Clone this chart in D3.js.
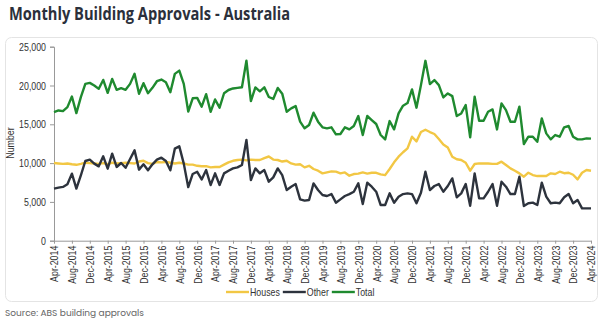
<!DOCTYPE html>
<html><head><meta charset="utf-8">
<script src="https://cdn.jsdelivr.net/npm/d3@7/dist/d3.min.js"></script>
<style>
body{margin:0;background:#fff;}
svg{display:block;}
</style></head>
<body>
<svg id="c" width="604" height="324"></svg>
<script>
const title = "Monthly Building Approvals - Australia";
const source = "Source: ABS building approvals";
const tickLabels = ["Apr-2014","Aug-2014","Dec-2014","Apr-2015","Aug-2015","Dec-2015","Apr-2016","Aug-2016","Dec-2016","Apr-2017","Aug-2017","Dec-2017","Apr-2018","Aug-2018","Dec-2018","Apr-2019","Aug-2019","Dec-2019","Apr-2020","Aug-2020","Dec-2020","Apr-2021","Aug-2021","Dec-2021","Apr-2022","Aug-2022","Dec-2022","Apr-2023","Aug-2023","Dec-2023","Apr-2024"];
const yTicks = [0,5000,10000,15000,20000,25000];
const seriesNames = ["Houses","Other","Total"];
const seriesColors = ["#f2c744","#2d333d","#1f8a2f"];

const houses = [10010,9950,9900,9950,9850,9780,9900,10050,10000,9950,9900,10000,9850,10050,9950,10000,10050,10000,9950,10200,10300,10000,9900,10150,10100,10150,10050,9950,10050,9950,9800,9800,9650,9600,9600,9450,9500,9500,9800,10100,10300,10400,10450,10350,10450,10400,10400,10650,10850,10450,10400,10200,10300,9960,9800,9850,9450,9650,9240,9020,8680,8800,8930,8900,8680,8800,8380,8590,8650,8800,8650,8750,8750,8550,8450,9240,10100,10830,11400,11900,13400,12800,14000,14300,14000,13750,13100,12400,12000,10830,10490,10400,10050,9020,9880,9960,9950,9950,9900,9900,10180,9750,9320,9020,8680,8250,8760,8460,8330,8330,8330,8680,8600,8890,8700,8760,8500,7900,8760,9110,9020];
const other = [6710,6840,6930,7270,8640,6710,8430,10270,10440,9930,9580,10870,9280,11210,9500,10010,9400,10530,11640,9160,9840,9070,9840,10440,10700,10270,9070,11860,12160,9930,6900,8600,8880,7900,9100,7180,8680,7180,8680,9020,9320,9450,9760,12980,7820,9320,8680,9100,7600,8160,9320,8460,6530,6960,7300,5330,5160,5250,7390,6530,5890,5760,6010,4900,5330,5760,6010,6310,7390,4730,7470,6960,6310,4600,4600,6100,4900,5670,6010,6100,6010,4820,6180,8890,6530,7050,7300,6310,7050,8030,5590,6100,7300,4510,8680,5460,5460,6310,7300,4510,7600,6960,6010,6010,8250,4470,4820,4900,4600,7470,5670,4820,4900,4820,5590,6010,4820,5250,4170,4170,4170];
const total = [16570,16780,16700,17210,18580,16440,18500,20210,20340,20000,19570,20720,19050,20850,19440,19650,19450,20210,21500,18930,20300,19010,19700,20550,20770,20420,19140,21500,21920,20210,16650,18350,18410,17270,18880,16620,18200,17140,19000,19420,19620,19700,19770,23200,18000,19760,19250,19760,18520,18270,19680,18950,16620,17050,17350,15340,14480,14910,16490,15340,14610,14480,14610,13710,13750,14610,14350,14780,16070,13620,16070,15550,15040,13620,13060,15420,14350,16400,17400,17740,19500,17140,20050,23180,20180,20700,20050,18460,18980,18630,16060,16400,17480,13310,18550,15460,15460,16620,16920,14340,17700,16830,15330,15330,17270,12460,13400,13400,12750,15760,13830,13060,13620,13400,14610,14780,13400,13060,13060,13190,13150];

const svg = d3.select("#c");
const font = "'Liberation Sans',Arial,sans-serif";
const NX = 0.8; // horizontal condensing of the narrow axis font

// title
svg.append("text").attr("x",9).attr("y",20).text(title)
  .attr("font-family","'Open Sans',Poppins,sans-serif").attr("font-weight","700")
  .attr("font-size",17).attr("fill","#2b303b")
  .attr("textLength",281).attr("lengthAdjust","spacingAndGlyphs");

// card
svg.append("rect").attr("x",5.5).attr("y",37.5).attr("width",592).attr("height",264).attr("rx",6)
  .attr("fill","#fff").attr("stroke","#e4e4e4");

// source
svg.append("text").attr("x",5).attr("y",316).text(source)
  .attr("font-family","Poppins,'Open Sans',sans-serif").attr("font-size",9).attr("fill","#666");

const n = total.length;
const x = d3.scaleLinear().domain([0, n-1]).range([54, 591]);
const y = d3.scaleLinear().domain([0, 25000]).range([240.7, 46.7]);

// y axis
const ya = svg.append("g").attr("transform","translate(54,0)")
  .call(d3.axisLeft(y).tickValues(yTicks).tickFormat(d3.format(",")).tickSize(4).tickPadding(4));
ya.select(".domain").attr("stroke","#999");
ya.selectAll(".tick line").attr("stroke","#999");
ya.selectAll("text").attr("font-family",font).attr("font-size",11).attr("fill","#333")
  .attr("x",-8/NX).attr("transform",`scale(${NX},1)`);

// x axis
const xa = svg.append("g").attr("transform","translate(0,240.7)")
  .call(d3.axisBottom(x).tickValues(d3.range(0, n, 4)).tickFormat((d,i)=>tickLabels[i]).tickSize(3).tickSizeOuter(0));
xa.select(".domain").attr("stroke","#999");
xa.selectAll(".tick line").attr("stroke","#999");
xa.selectAll("text").attr("font-family",font).attr("font-size",11).attr("fill","#333")
  .attr("text-anchor","end").attr("transform",`rotate(-90) scale(${NX},1)`).attr("x",-5/NX).attr("y",0).attr("dy","0.35em");

// y title
svg.append("text").attr("transform",`translate(14,143) rotate(-90) scale(${NX},1)`).attr("text-anchor","middle")
  .attr("font-family",font).attr("font-size",11).attr("fill","#333").text("Number");

// lines
const line = d3.line().x((d,i)=>x(i)).y(d=>y(d));
[houses, other, total].forEach((s,k)=>{
  svg.append("path").datum(s).attr("d",line).attr("fill","none")
    .attr("stroke",seriesColors[k]).attr("stroke-width",2.4).attr("stroke-linejoin","round");
});

// legend
const lg = svg.append("g");
let lx = 226;
const ly = 292;
seriesNames.forEach((nm,k)=>{
  lg.append("line").attr("x1",lx).attr("x2",lx+23).attr("y1",ly).attr("y2",ly)
    .attr("stroke",seriesColors[k]).attr("stroke-width",2.4);
  const t = lg.append("text").attr("transform",`translate(${lx+24},${ly}) scale(${NX},1)`).attr("dy","0.35em").text(nm)
    .attr("font-family",font).attr("font-size",11).attr("fill","#333");
  lx += 24 + t.node().getComputedTextLength()*NX + 3;
});
</script>
</body></html>
